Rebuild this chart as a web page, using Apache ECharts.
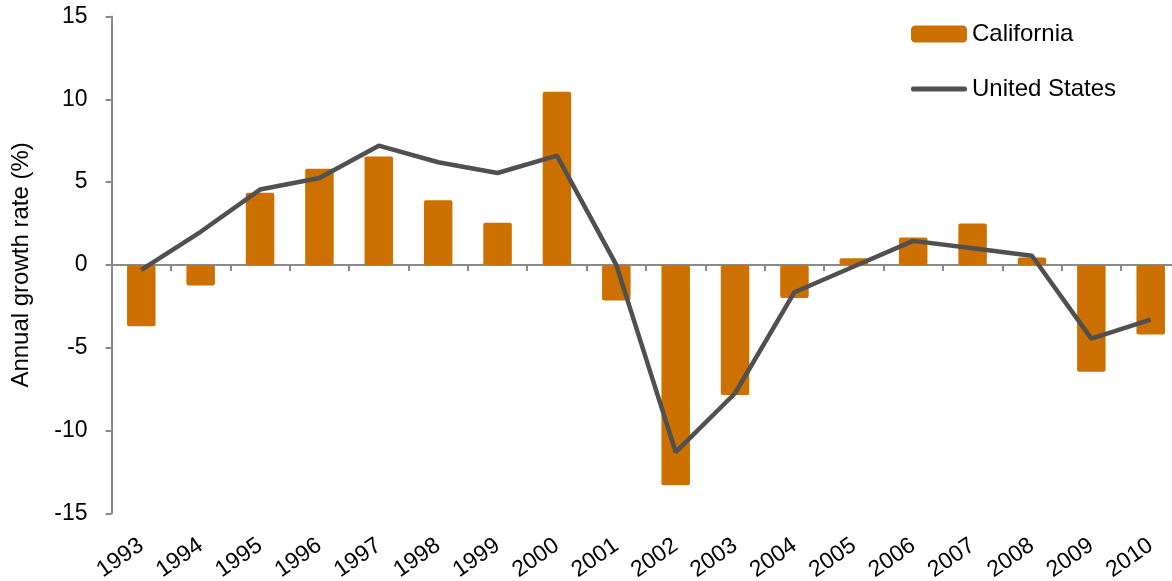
<!DOCTYPE html>
<html>
<head>
<meta charset="utf-8">
<script src="https://cdn.jsdelivr.net/npm/echarts@6/dist/echarts.min.js"></script>
<style>
  html, body { margin: 0; padding: 0; background: #FFFFFF; }
  #chart { width: 1172px; height: 581px; }
</style>
</head>
<body>
<div id="chart"></div>
<script>
var years = ['1993', '1994', '1995', '1996', '1997', '1998', '1999', '2000', '2001',
  '2002', '2003', '2004', '2005', '2006', '2007', '2008', '2009', '2010']
// 加州年增长率
var californiaValues = [-3.7, -1.25, 4.35, 5.8, 6.55, 3.9, 2.55, 10.45, -2.15,
  -13.3, -7.85, -2.0, 0.4, 1.65, 2.5, 0.45, -6.45, -4.2]
// 全美年增长率
var usValues = [-0.3, 2.0, 4.55, 5.25, 7.2, 6.2, 5.55, 6.6, 0.0,
  -11.3, -7.75, -1.65, -0.1, 1.45, 1.0, 0.55, -4.45, -3.3]
var yTicks = { min: -15, max: 15, interval: 5 }

var font = 'Liberation Sans, Arial, sans-serif'
var chart = echarts.init(document.getElementById('chart'))

var option = {
  animation: false,
  textStyle: { fontFamily: font },
  grid: {
    left: 111.6,
    right: -8.4,
    top: 16.5,
    bottom: 67.7,
    containLabel: false,
    outerBoundsMode: 'none'
  },
  legend: {
    orient: 'vertical',
    left: 906,
    top: 17,
    itemWidth: 56,
    itemHeight: 17,
    itemGap: 31,
    textStyle: { fontFamily: font, fontSize: 24, color: '#000000' },
    data: [
      { name: 'California', icon: 'roundRect' },
      { name: 'United States', icon: 'path://M2,0 L54,0 Q56,0 56,2 L56,3 Q56,5 54,5 L2,5 Q0,5 0,3 L0,2 Q0,0 2,0 Z' }
    ]
  },
  xAxis: [
    {
      // 零线 + 刻度
      type: 'category',
      data: years,
      boundaryGap: true,
      axisLine: { show: true, onZero: true, lineStyle: { color: '#8A8A8A', width: 2 } },
      axisTick: { show: true, length: 6, lineStyle: { color: '#8A8A8A', width: 2 } },
      axisLabel: { show: false },
      splitLine: { show: false }
    },
    {
      // 底部年份标签
      type: 'category',
      data: years,
      position: 'bottom',
      boundaryGap: true,
      axisLine: { show: false, onZero: false },
      axisTick: { show: false },
      axisLabel: {
        show: true,
        rotate: 35,
        margin: 30,
        fontFamily: font,
        fontSize: 23,
        color: '#000000',
        interval: 0
      },
      splitLine: { show: false }
    }
  ],
  yAxis: {
    type: 'value',
    min: yTicks.min,
    max: yTicks.max,
    interval: yTicks.interval,
    name: 'Annual growth rate (%)',
    nameLocation: 'middle',
    nameRotate: 90,
    nameGap: 78,
    nameTextStyle: { fontFamily: font, fontSize: 24, color: '#000000' },
    axisLine: { show: true, lineStyle: { color: '#8A8A8A', width: 2 } },
    axisTick: { show: true, length: 6, lineStyle: { color: '#8A8A8A', width: 2 } },
    axisLabel: { margin: 24, fontFamily: font, fontSize: 23, color: '#000000' },
    splitLine: { show: false }
  },
  series: [
    {
      name: 'California',
      type: 'bar',
      xAxisIndex: 0,
      barWidth: '48%',
      data: californiaValues,
      itemStyle: { color: '#CC7000', borderRadius: 2 }
    },
    {
      name: 'United States',
      type: 'line',
      xAxisIndex: 0,
      data: usValues,
      symbol: 'none',
      lineStyle: { color: '#505050', width: 4.5 },
      itemStyle: { color: '#505050' }
    }
  ]
}

chart.setOption(option)
</script>
</body>
</html>
